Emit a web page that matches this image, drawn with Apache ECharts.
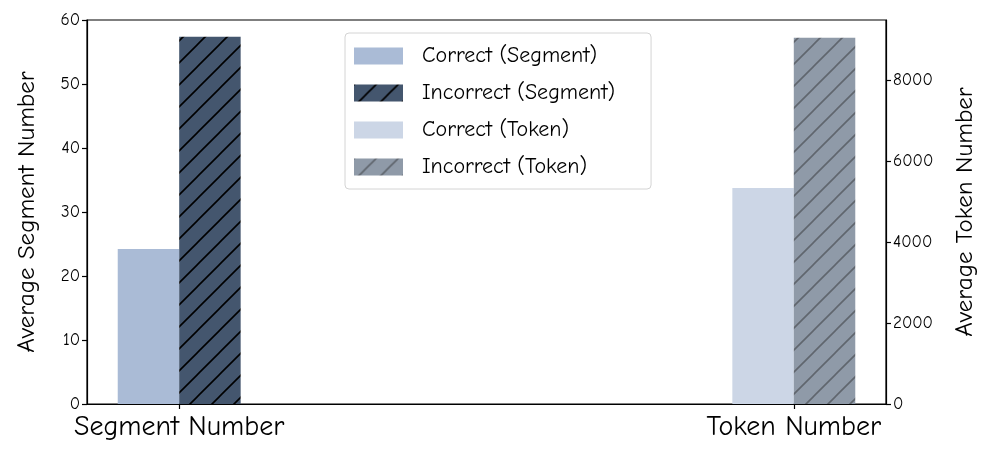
<!DOCTYPE html>
<html>
<head>
<meta charset="utf-8">
<script src="https://cdn.jsdelivr.net/npm/echarts@6/dist/echarts.min.js"></script>
<style>
  html, body { margin: 0; padding: 0; background: #fff; }
  #chart { width: 997px; height: 458px; }
</style>
</head>
<body>
<div id="chart"></div>
<script>
// data
const categories = ["Segment Number", "Token Number"];
const categoryPos = [0, 1];
const segCorrect = 24.2;
const segIncorrect = 57.4;
const tokCorrect = 5330;
const tokIncorrect = 9040;
const leftTicks = [0, 10, 20, 30, 40, 50, 60];
const rightTicks = [0, 2000, 4000, 6000, 8000];

const FONT = "'Comic Sans MS', 'Comic Neue', 'DejaVu Sans', sans-serif";
const BAR_W = 0.1; // bar width in x units

// hatch pattern "/" like matplotlib
function hatch(base, line) {
  const s = 22;
  const c = document.createElement("canvas");
  c.width = s;
  c.height = s;
  const ctx = c.getContext("2d");
  ctx.fillStyle = base;
  ctx.fillRect(0, 0, s, s);
  ctx.strokeStyle = line;
  ctx.lineWidth = 1.6;
  ctx.beginPath();
  ctx.moveTo(-s, 2 * s); ctx.lineTo(2 * s, -s);
  ctx.moveTo(-2 * s, 2 * s); ctx.lineTo(s, -s);
  ctx.moveTo(0, 2 * s); ctx.lineTo(3 * s, -s);
  ctx.stroke();
  return { image: c, repeat: "repeat" };
}

function renderBar(params, api) {
  const x = api.value(0);
  const y = api.value(1);
  const p0 = api.coord([x - BAR_W / 2, 0]);
  const p1 = api.coord([x + BAR_W / 2, y]);
  return {
    type: "rect",
    shape: { x: p0[0], y: p1[1], width: p1[0] - p0[0], height: p0[1] - p1[1] },
    style: api.style()
  };
}

const chart = echarts.init(document.getElementById("chart"));

const option = {
  backgroundColor: "#fff",
  animation: false,
  textStyle: { fontFamily: FONT },
  grid: {
    left: 87, right: 111, top: 20, bottom: 54,
    outerBoundsMode: "none",
    show: true, borderColor: "#000", borderWidth: 1.2
  },
  legend: {
    orient: "vertical",
    left: 345,
    top: 33,
    padding: [12, 36, 11, 9],
    itemWidth: 49,
    itemHeight: 17,
    itemGap: 15,
    icon: "rect",
    borderColor: "#d4d4d4",
    borderWidth: 1,
    borderRadius: 4,
    backgroundColor: "#fff",
    textStyle: { fontSize: 22, color: "#000", fontFamily: FONT, lineHeight: 17, padding: [0, 0, 0, 14] },
    data: ["Correct (Segment)", "Incorrect (Segment)", "Correct (Token)", "Incorrect (Token)"]
  },
  xAxis: {
    type: "value",
    min: -0.15,
    max: 1.15,
    splitLine: { show: false },
    axisLine: { onZero: false, lineStyle: { color: "#000", width: 1.2 } },
    axisTick: { show: true, customValues: categoryPos, length: 5, lineStyle: { color: "#000", width: 1.2 } },
    axisLabel: {
      customValues: categoryPos,
      formatter: v => categories[Math.round(v)],
      fontSize: 28,
      color: "#000",
      margin: 9,
      fontFamily: FONT
    }
  },
  yAxis: [
    {
      type: "value",
      min: 0,
      max: 60,
      interval: 10,
      name: "Average Segment Number",
      nameLocation: "middle",
      nameGap: 48,
      nameTextStyle: { fontSize: 25, color: "#000", fontFamily: FONT },
      splitLine: { show: false },
      axisLine: { show: true, onZero: false, lineStyle: { color: "#000", width: 1.2 } },
      axisTick: { show: true, length: 5, lineStyle: { color: "#000", width: 1.2 } },
      axisLabel: { fontSize: 17, color: "#000", margin: 7, fontFamily: FONT,
        customValues: leftTicks }
    },
    {
      type: "value",
      min: 0,
      max: 9480,
      position: "right",
      name: "Average Token Number",
      nameLocation: "middle",
      nameGap: 66,
      nameRotate: 90,
      nameTextStyle: { fontSize: 25, color: "#000", fontFamily: FONT },
      splitLine: { show: false },
      axisLine: { show: true, onZero: false, lineStyle: { color: "#000", width: 1.2 } },
      axisTick: { show: true, length: 5, customValues: rightTicks, lineStyle: { color: "#000", width: 1.2 } },
      axisLabel: { fontSize: 17, color: "#000", margin: 7, fontFamily: FONT, customValues: rightTicks,
        formatter: v => String(v) }
    }
  ],
  series: [
    {
      name: "Correct (Segment)",
      type: "custom",
      renderItem: renderBar,
      yAxisIndex: 0,
      itemStyle: { color: "#aabbd6" },
      encode: { x: 0, y: 1 },
      data: [[categoryPos[0] - 0.05, segCorrect]]
    },
    {
      name: "Incorrect (Segment)",
      type: "custom",
      renderItem: renderBar,
      yAxisIndex: 0,
      itemStyle: { color: hatch("#44566e", "#000") },
      encode: { x: 0, y: 1 },
      data: [[categoryPos[0] + 0.05, segIncorrect]]
    },
    {
      name: "Correct (Token)",
      type: "custom",
      renderItem: renderBar,
      yAxisIndex: 1,
      itemStyle: { color: "#ccd6e6" },
      encode: { x: 0, y: 1 },
      data: [[categoryPos[1] - 0.05, tokCorrect]]
    },
    {
      name: "Incorrect (Token)",
      type: "custom",
      renderItem: renderBar,
      yAxisIndex: 1,
      itemStyle: { color: hatch("#8f9aa8", "#60666e") },
      encode: { x: 0, y: 1 },
      data: [[categoryPos[1] + 0.05, tokIncorrect]]
    }
  ]
};

chart.setOption(option);
</script>
</body>
</html>
